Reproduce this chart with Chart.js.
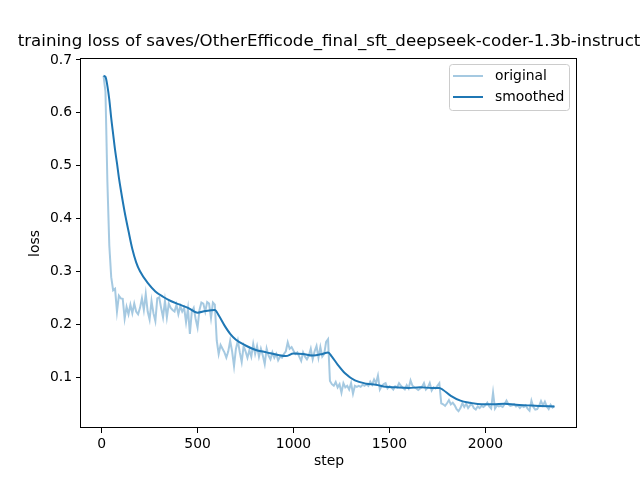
<!DOCTYPE html>
<html>
<head>
<meta charset="utf-8">
<script src="https://cdn.jsdelivr.net/npm/chart.js@4.4.1/dist/chart.umd.min.js"></script>
<style>
  html, body { margin: 0; padding: 0; background: #ffffff; }
  canvas { display: block; }
</style>
</head>
<body>
<canvas id="c" width="640" height="480"></canvas>
<script>
// ---------- data ----------
const chartTitle = "training loss of saves/OtherEfficode_final_sft_deepseek-coder-1.3b-instruct";
const xLabel = "step";
const yLabel = "loss";
const seriesNames = ["original", "smoothed"];

// logged every 10 steps, from step 10 to step 2360
const logStart = 10;
const logEvery = 10;
const originalLoss = [
  0.670, 0.640, 0.470, 0.350, 0.290, 0.265, 0.268, 0.225, 0.255, 0.250,
  0.249, 0.212, 0.234, 0.220, 0.238, 0.222, 0.240, 0.225, 0.220, 0.232,
  0.250, 0.228, 0.258, 0.225, 0.210, 0.245, 0.222, 0.207, 0.250, 0.252,
  0.232, 0.214, 0.245, 0.214, 0.240, 0.232, 0.228, 0.225, 0.238, 0.220,
  0.235, 0.225, 0.232, 0.205, 0.230, 0.183, 0.225, 0.232, 0.211, 0.195,
  0.228, 0.242, 0.240, 0.225, 0.243, 0.240, 0.213, 0.242, 0.238, 0.170,
  0.145, 0.162, 0.155, 0.148, 0.138, 0.150, 0.170, 0.150, 0.122, 0.155,
  0.170, 0.148, 0.130, 0.160, 0.150, 0.138, 0.152, 0.140, 0.164, 0.145,
  0.160, 0.140, 0.155, 0.142, 0.126, 0.155, 0.142, 0.135, 0.148, 0.138,
  0.145, 0.133, 0.140, 0.138, 0.145, 0.150, 0.167, 0.155, 0.158, 0.151,
  0.145, 0.148, 0.140, 0.132, 0.148, 0.140, 0.135, 0.142, 0.155, 0.135,
  0.150, 0.160, 0.138, 0.158, 0.140, 0.145, 0.168, 0.173, 0.094, 0.088,
  0.085, 0.092, 0.082, 0.088, 0.072, 0.090, 0.082, 0.085, 0.078, 0.090,
  0.070, 0.085, 0.083, 0.085, 0.083, 0.087, 0.085, 0.088, 0.085, 0.093,
  0.087, 0.097, 0.090, 0.104, 0.078, 0.085, 0.088, 0.090, 0.080, 0.084,
  0.082, 0.078, 0.084, 0.082, 0.090, 0.085, 0.081, 0.078, 0.086, 0.080,
  0.095, 0.085, 0.082, 0.080, 0.077, 0.080, 0.083, 0.090, 0.078, 0.082,
  0.090, 0.076, 0.082, 0.080, 0.085, 0.090, 0.052, 0.050, 0.047, 0.052,
  0.058, 0.050, 0.053, 0.048, 0.041, 0.037, 0.043, 0.052, 0.045, 0.051,
  0.043, 0.048, 0.050, 0.043, 0.040, 0.046, 0.043, 0.047, 0.045, 0.048,
  0.053, 0.046, 0.042, 0.072, 0.042, 0.048, 0.046, 0.047, 0.045, 0.050,
  0.057, 0.050, 0.047, 0.048, 0.050, 0.046, 0.048, 0.043, 0.047, 0.045,
  0.048, 0.042, 0.038, 0.057, 0.045, 0.040, 0.041, 0.047, 0.056, 0.048,
  0.055, 0.046, 0.041, 0.049, 0.044, 0.047
];
const originalSteps = originalLoss.map((_, i) => logStart + i * logEvery);

const smoothedSteps = [
  10, 20, 30, 40, 50, 60, 70, 80, 90, 100,
  120, 140, 160, 180, 200, 240, 280, 320, 360, 400,
  450, 500, 540, 590, 610, 640, 670, 700, 750, 800,
  860, 920, 960, 1000, 1050, 1100, 1150, 1180, 1200, 1230,
  1270, 1320, 1380, 1430, 1480, 1530, 1600, 1660, 1720, 1760,
  1780, 1820, 1870, 1920, 1980, 2040, 2100, 2160, 2220, 2280,
  2360
];
const smoothedLoss = [
  0.670, 0.668, 0.651, 0.625, 0.590, 0.560, 0.530, 0.505, 0.478, 0.455,
  0.413, 0.377, 0.343, 0.318, 0.301, 0.279, 0.263, 0.253, 0.245, 0.239,
  0.232, 0.223, 0.226, 0.228, 0.218, 0.199, 0.183, 0.172, 0.161, 0.153,
  0.148, 0.143, 0.141, 0.146, 0.145, 0.142, 0.145, 0.148, 0.140, 0.125,
  0.108, 0.095, 0.089, 0.087, 0.083, 0.082, 0.081, 0.082, 0.081, 0.081,
  0.077, 0.066, 0.057, 0.053, 0.050, 0.050, 0.051, 0.049, 0.048, 0.047,
  0.046
];

const xTicks = [0, 500, 1000, 1500, 2000];
const xTickLabels = ["0", "500", "1000", "1500", "2000"];
const yTicks = [0.1, 0.2, 0.3, 0.4, 0.5, 0.6, 0.7];
const yTickLabels = ["0.1", "0.2", "0.3", "0.4", "0.5", "0.6", "0.7"];
const xRange = [-107.5, 2477.5];
const yRange = [0.0053, 0.7017];

// ---------- styles ----------
const FONT = "'DejaVu Sans', sans-serif";
const TICK_PX = 13.9;
const TITLE_PX = 16.67;
const baseColor = "#1f77b4";
const lightColor = "rgba(31,119,180,0.4)";
const seriesColors = [lightColor, baseColor];

const frame = { left: 81, top: 59, right: 577, bottom: 428 };

const decorPlugin = {
  id: "decor",
  afterDraw(chart) {
    const ctx = chart.ctx;
    const a = chart.chartArea;
    ctx.save();
    // spines
    ctx.strokeStyle = "#000";
    ctx.lineWidth = 1;
    ctx.strokeRect(Math.round(a.left) - 0.5, Math.round(a.top) - 0.5,
                   Math.round(a.right - a.left), Math.round(a.bottom - a.top));
    // title
    ctx.fillStyle = "#000";
    ctx.font = TITLE_PX + "px " + FONT;
    ctx.textAlign = "center";
    ctx.textBaseline = "alphabetic";
    ctx.fillText(chartTitle, (a.left + a.right) / 2, 46);
    // axis labels
    ctx.font = TICK_PX + "px " + FONT;
    ctx.textBaseline = "middle";
    ctx.fillText(xLabel, (a.left + a.right) / 2, 461);
    ctx.save();
    ctx.translate(35, (a.top + a.bottom) / 2);
    ctx.rotate(-Math.PI / 2);
    ctx.fillText(yLabel, 0, 0);
    ctx.restore();
    // legend
    const lx = 449.5, ly = 64.5, lw = 120, lh = 46, r = 3;
    ctx.beginPath();
    ctx.moveTo(lx + r, ly);
    ctx.lineTo(lx + lw - r, ly);
    ctx.quadraticCurveTo(lx + lw, ly, lx + lw, ly + r);
    ctx.lineTo(lx + lw, ly + lh - r);
    ctx.quadraticCurveTo(lx + lw, ly + lh, lx + lw - r, ly + lh);
    ctx.lineTo(lx + r, ly + lh);
    ctx.quadraticCurveTo(lx, ly + lh, lx, ly + lh - r);
    ctx.lineTo(lx, ly + r);
    ctx.quadraticCurveTo(lx, ly, lx + r, ly);
    ctx.closePath();
    ctx.fillStyle = "rgba(255,255,255,0.8)";
    ctx.fill();
    ctx.strokeStyle = "#cccccc";
    ctx.lineWidth = 1;
    ctx.stroke();
    const rows = [76, 97];
    chart.data.datasets.forEach((ds, i) => {
      ctx.strokeStyle = ds.borderColor;
      ctx.lineWidth = 2;
      ctx.beginPath();
      ctx.moveTo(453, rows[i]);
      ctx.lineTo(483, rows[i]);
      ctx.stroke();
      ctx.fillStyle = "#000";
      ctx.textAlign = "left";
      ctx.textBaseline = "middle";
      ctx.font = TICK_PX + "px " + FONT;
      ctx.fillText(ds.label, 495, rows[i]);
    });
    ctx.restore();
  }
};

new Chart(document.getElementById("c"), {
  type: "line",
  data: {
    datasets: [
      {
        label: seriesNames[0],
        data: originalSteps.map((s, i) => ({ x: s, y: originalLoss[i] })),
        borderColor: seriesColors[0],
        borderWidth: 2,
        pointRadius: 0,
        tension: 0,
        fill: false
      },
      {
        label: seriesNames[1],
        data: smoothedSteps.map((s, i) => ({ x: s, y: smoothedLoss[i] })),
        borderColor: seriesColors[1],
        borderWidth: 2,
        pointRadius: 0,
        cubicInterpolationMode: "monotone",
        fill: false
      }
    ]
  },
  options: {
    responsive: false,
    animation: false,
    devicePixelRatio: 1,
    layout: { padding: { left: 0, top: frame.top, right: 640 - frame.right, bottom: 0 } },
    plugins: { legend: { display: false }, title: { display: false }, tooltip: { enabled: false } },
    scales: {
      x: {
        type: "linear",
        min: xRange[0],
        max: xRange[1],
        afterBuildTicks: (sc) => { sc.ticks = xTicks.map(v => ({ value: v })); },
        afterFit: (sc) => { sc.height = 480 - frame.bottom; },
        grid: { drawOnChartArea: false, drawTicks: true, tickLength: 5, tickColor: "#000", color: "#000" },
        border: { display: false },
        ticks: {
          color: "#000",
          font: { family: FONT, size: TICK_PX },
          padding: 3,
          maxRotation: 0,
          autoSkip: false,
          callback: (v, i) => xTickLabels[i]
        }
      },
      y: {
        type: "linear",
        min: yRange[0],
        max: yRange[1],
        afterBuildTicks: (sc) => { sc.ticks = yTicks.map(v => ({ value: v })); },
        afterFit: (sc) => { sc.width = frame.left; },
        grid: { drawOnChartArea: false, drawTicks: true, tickLength: 5, tickColor: "#000", color: "#000" },
        border: { display: false },
        ticks: {
          color: "#000",
          font: { family: FONT, size: TICK_PX },
          padding: 4,
          autoSkip: false,
          callback: (v, i) => yTickLabels[i]
        }
      }
    }
  },
  plugins: [decorPlugin]
});
</script>
</body>
</html>
